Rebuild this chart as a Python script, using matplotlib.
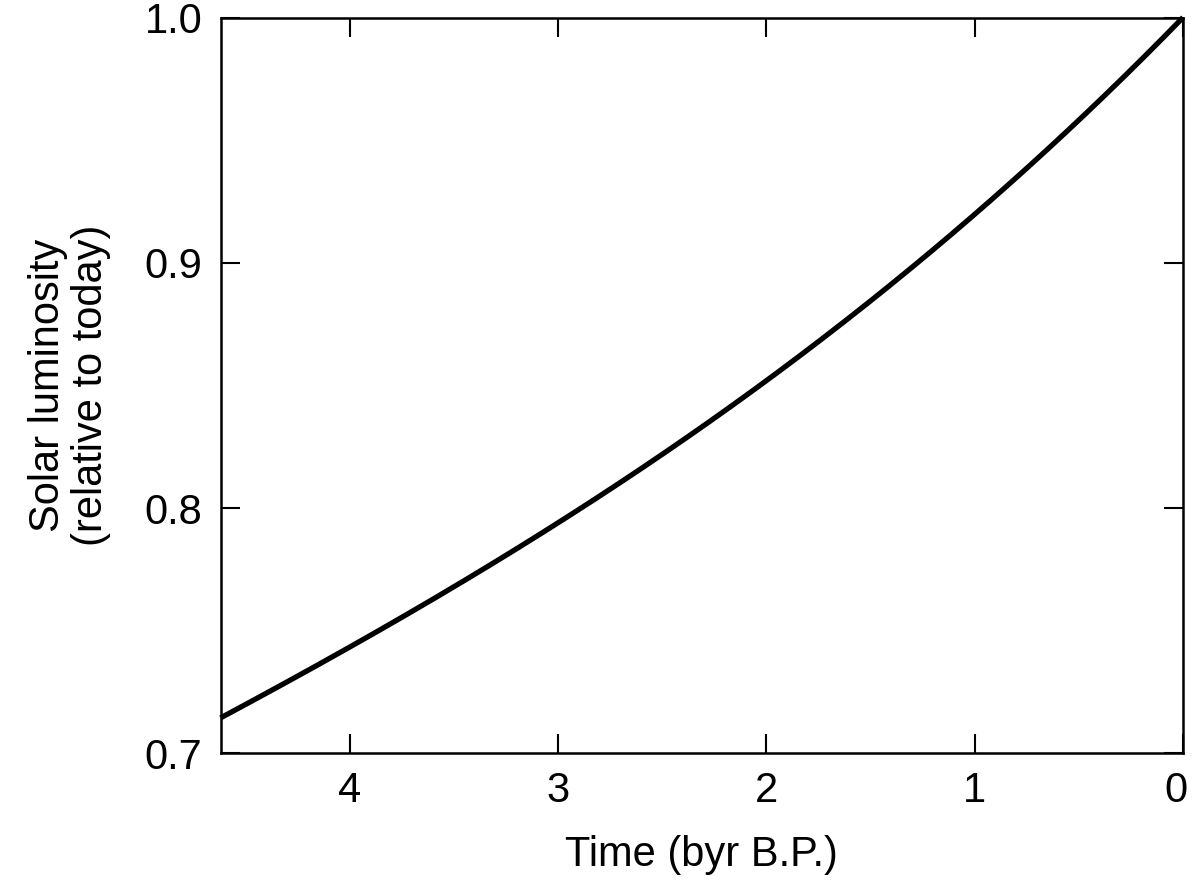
import matplotlib
matplotlib.use("Agg")
import matplotlib.pyplot as plt
import matplotlib.transforms as mtransforms
import numpy as np

# Data (time in byr before present, luminosity relative to today)
time_byr = [4.62, 4.0, 3.5, 3.0, 2.5, 2.0, 1.5, 1.0, 0.5, 0.0]
luminosity = [0.714, 0.744, 0.768, 0.795, 0.819, 0.853, 0.885, 0.920, 0.958, 1.000]

x_ticks = [4, 3, 2, 1, 0]
y_ticks = [0.7, 0.8, 0.9, 1.0]
y_tick_labels = ["0.7", "0.8", "0.9", "1.0"]

plt.rcParams['font.family'] = ['Liberation Sans', 'DejaVu Sans']

fig = plt.figure(figsize=(11.92, 8.8), dpi=100)
ax = fig.add_axes([0.185, 0.144, 0.8075, 0.836])

# smooth curve through read points
xs = np.array(time_byr)[::-1]
ys = np.array(luminosity)[::-1]
coef = np.polyfit(xs, ys, 3)
xf = np.linspace(xs.min(), xs.max(), 300)
ax.plot(xf, np.polyval(coef, xf), color='black', lw=3.8, clip_on=False,
        solid_capstyle='butt')

ax.set_xlim(4.62, 0)
ax.set_ylim(0.7, 1.0)
ax.set_xticks(x_ticks)
ax.set_xticklabels([str(t) for t in x_ticks])
ax.set_yticks(y_ticks)
ax.set_yticklabels(y_tick_labels)

for s in ax.spines.values():
    s.set_linewidth(1.8)

ax.tick_params(axis='both', direction='in', length=14, width=1.5,
               labelsize=30, top=True, right=True, pad=13)

# nudge the rightmost "0" label slightly left so it stays inside the canvas
last = ax.xaxis.get_major_ticks()[-1].label1
last.set_transform(last.get_transform() +
                   mtransforms.ScaledTranslation(-5 / 72, 0, fig.dpi_scale_trans))

ax.set_xlabel("Time (byr B.P.)", fontsize=30, labelpad=17)
ax.set_ylabel("Solar luminosity\n(relative to today)", fontsize=30, labelpad=24,
              linespacing=1.1)

fig.savefig("out.png", dpi=100)
